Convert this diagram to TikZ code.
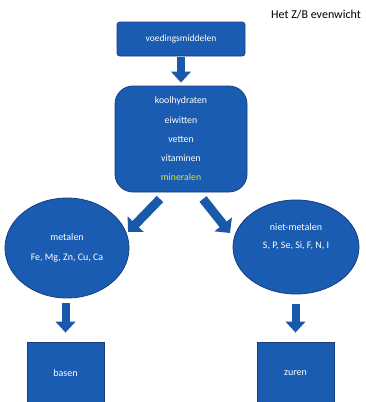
\documentclass[tikz,border=0pt]{standalone}
\usepackage{fontspec}
\setmainfont{Carlito}
\usetikzlibrary{shapes.geometric,arrows.meta}
\definecolor{boxblue}{RGB}{26,92,178}
\definecolor{edgeblue}{RGB}{22,62,125}
\definecolor{arrblue}{RGB}{26,88,170}
\definecolor{minyellow}{RGB}{222,232,20}
\tikzset{
  bluebox/.style={draw=edgeblue, line width=0.8pt, fill=boxblue, text=white, align=center, inner sep=0pt},
  blueell/.style={ellipse, draw=edgeblue, line width=0.8pt, fill=boxblue, text=white, align=center, inner sep=0pt},
  blockarrow/.style={line width=#1, draw=arrblue, -{Triangle[width=2.3*#1+1pt,length=11pt]}},
  blockarrow/.default=8pt
}
\begin{document}
\begin{tikzpicture}[x=1pt,y=-1pt]
\clip (0,0) rectangle (365,402);
\fill[white] (0,0) rectangle (365,402);
\node[font=\fontsize{12}{14}\selectfont] (title) at (316,15) {Het Z/B evenwicht};
\node[bluebox, rounded corners=3pt, minimum width=128pt, minimum height=34pt,
  font=\fontsize{9.5}{11}\selectfont] (voed) at (181,39) {voedingsmiddelen};
\node[bluebox, rounded corners=18pt, minimum width=132pt, minimum height=106pt,
  font=\fontsize{9.8}{19.2}\selectfont] (mac) at (181,139)
  {koolhydraten\\eiwitten\\vetten\\vitaminen\\\textcolor{minyellow}{mineralen}};
\node[blueell, minimum width=124pt, minimum height=100pt,
  font=\fontsize{10}{20}\selectfont] (metal) at (67,248) {metalen\\Fe, Mg, Zn, Cu, Ca};
\node[blueell, minimum width=126pt, minimum height=94pt,
  font=\fontsize{10}{18}\selectfont] (niet) at (296,247) {niet-metalen\\S, P, Se, Si, F, N, I\\[4pt]};
\node[bluebox, minimum width=77pt, minimum height=62pt,
  font=\fontsize{10}{12}\selectfont] (basen) at (65.5,373) {basen};
\node[bluebox, minimum width=77pt, minimum height=62pt,
  font=\fontsize{10}{12}\selectfont] (zuren) at (295.5,373) {zuren};
% arrows
\draw[blockarrow=8pt, shorten <=1pt, shorten >=3pt] (voed.south) -- (mac.north);
\coordinate (lt) at (160,199);
\coordinate (lh) at (128,232);
\coordinate (rt) at (203,199);
\coordinate (rh) at (230,233);
\draw[blockarrow=9pt] (lt) -- (lh);
\draw[blockarrow=9pt] (rt) -- (rh);
\draw[blockarrow=8pt, shorten <=5pt, shorten >=9pt] (metal.south -| basen.north) -- (basen.north);
\draw[blockarrow=8pt, shorten <=10pt, shorten >=9pt] (niet.south -| zuren.north) -- (zuren.north);
\end{tikzpicture}
\end{document}
